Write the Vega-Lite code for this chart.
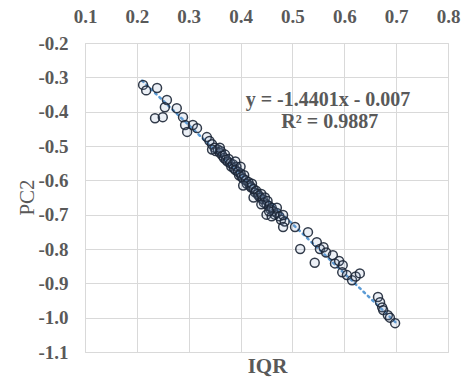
{
  "$schema": "https://vega.github.io/schema/vega-lite/v6.json",
  "width": 363,
  "height": 309,
  "autosize": "none",
  "padding": {"left": 85, "top": 43, "right": 15, "bottom": 27},
  "background": "white",
  "config": {
    "view": {"stroke": "#d9d9d9", "strokeWidth": 1},
    "font": "Liberation Serif"
  },
  "datasets": {
    "pts": [
      {"IQR": 0.212, "PC2": -0.322}, {"IQR": 0.218, "PC2": -0.338}, {"IQR": 0.239, "PC2": -0.331},
      {"IQR": 0.258, "PC2": -0.366}, {"IQR": 0.254, "PC2": -0.387}, {"IQR": 0.235, "PC2": -0.419},
      {"IQR": 0.250, "PC2": -0.416}, {"IQR": 0.277, "PC2": -0.390}, {"IQR": 0.289, "PC2": -0.416},
      {"IQR": 0.293, "PC2": -0.439}, {"IQR": 0.297, "PC2": -0.459}, {"IQR": 0.308, "PC2": -0.439},
      {"IQR": 0.316, "PC2": -0.448}, {"IQR": 0.335, "PC2": -0.474}, {"IQR": 0.340, "PC2": -0.485},
      {"IQR": 0.345, "PC2": -0.495}, {"IQR": 0.350, "PC2": -0.505}, {"IQR": 0.352, "PC2": -0.515},
      {"IQR": 0.356, "PC2": -0.510}, {"IQR": 0.360, "PC2": -0.520}, {"IQR": 0.362, "PC2": -0.515},
      {"IQR": 0.365, "PC2": -0.528}, {"IQR": 0.368, "PC2": -0.535}, {"IQR": 0.370, "PC2": -0.525},
      {"IQR": 0.372, "PC2": -0.540}, {"IQR": 0.375, "PC2": -0.545}, {"IQR": 0.377, "PC2": -0.538},
      {"IQR": 0.380, "PC2": -0.550}, {"IQR": 0.382, "PC2": -0.560}, {"IQR": 0.385, "PC2": -0.553},
      {"IQR": 0.387, "PC2": -0.565}, {"IQR": 0.390, "PC2": -0.570}, {"IQR": 0.392, "PC2": -0.560},
      {"IQR": 0.395, "PC2": -0.575}, {"IQR": 0.397, "PC2": -0.585}, {"IQR": 0.400, "PC2": -0.580},
      {"IQR": 0.402, "PC2": -0.590}, {"IQR": 0.405, "PC2": -0.595}, {"IQR": 0.407, "PC2": -0.585},
      {"IQR": 0.410, "PC2": -0.600}, {"IQR": 0.412, "PC2": -0.610}, {"IQR": 0.415, "PC2": -0.605},
      {"IQR": 0.418, "PC2": -0.615}, {"IQR": 0.420, "PC2": -0.620}, {"IQR": 0.422, "PC2": -0.610},
      {"IQR": 0.425, "PC2": -0.625}, {"IQR": 0.428, "PC2": -0.635}, {"IQR": 0.430, "PC2": -0.630},
      {"IQR": 0.433, "PC2": -0.640}, {"IQR": 0.435, "PC2": -0.645}, {"IQR": 0.438, "PC2": -0.650},
      {"IQR": 0.440, "PC2": -0.640}, {"IQR": 0.443, "PC2": -0.655}, {"IQR": 0.445, "PC2": -0.665},
      {"IQR": 0.447, "PC2": -0.650}, {"IQR": 0.450, "PC2": -0.670}, {"IQR": 0.452, "PC2": -0.660},
      {"IQR": 0.455, "PC2": -0.675}, {"IQR": 0.458, "PC2": -0.685}, {"IQR": 0.460, "PC2": -0.680},
      {"IQR": 0.463, "PC2": -0.690}, {"IQR": 0.466, "PC2": -0.700}, {"IQR": 0.470, "PC2": -0.695},
      {"IQR": 0.475, "PC2": -0.705}, {"IQR": 0.478, "PC2": -0.715}, {"IQR": 0.485, "PC2": -0.720},
      {"IQR": 0.390, "PC2": -0.545}, {"IQR": 0.405, "PC2": -0.615}, {"IQR": 0.425, "PC2": -0.650},
      {"IQR": 0.440, "PC2": -0.670}, {"IQR": 0.450, "PC2": -0.700}, {"IQR": 0.460, "PC2": -0.705},
      {"IQR": 0.470, "PC2": -0.680}, {"IQR": 0.400, "PC2": -0.560}, {"IQR": 0.360, "PC2": -0.505},
      {"IQR": 0.345, "PC2": -0.510}, {"IQR": 0.455, "PC2": -0.690}, {"IQR": 0.482, "PC2": -0.701},
      {"IQR": 0.482, "PC2": -0.736}, {"IQR": 0.505, "PC2": -0.736}, {"IQR": 0.530, "PC2": -0.751},
      {"IQR": 0.515, "PC2": -0.800}, {"IQR": 0.543, "PC2": -0.840}, {"IQR": 0.547, "PC2": -0.780},
      {"IQR": 0.553, "PC2": -0.800}, {"IQR": 0.560, "PC2": -0.795}, {"IQR": 0.565, "PC2": -0.810},
      {"IQR": 0.578, "PC2": -0.818}, {"IQR": 0.582, "PC2": -0.842}, {"IQR": 0.590, "PC2": -0.835},
      {"IQR": 0.597, "PC2": -0.847}, {"IQR": 0.596, "PC2": -0.868}, {"IQR": 0.605, "PC2": -0.876},
      {"IQR": 0.615, "PC2": -0.891}, {"IQR": 0.622, "PC2": -0.880}, {"IQR": 0.630, "PC2": -0.871},
      {"IQR": 0.665, "PC2": -0.940}, {"IQR": 0.669, "PC2": -0.955}, {"IQR": 0.673, "PC2": -0.970},
      {"IQR": 0.675, "PC2": -0.978}, {"IQR": 0.684, "PC2": -0.993}, {"IQR": 0.688, "PC2": -1.000},
      {"IQR": 0.698, "PC2": -1.016}
    ],
    "trend": [
      {"IQR": 0.21, "PC2": -0.3094},
      {"IQR": 0.70, "PC2": -1.0151}
    ],
    "labels": [
      {"label": "y = -1.4401x - 0.007", "line": 1},
      {"label": "R² = 0.9887", "line": 2}
    ]
  },
  "layer": [
    {
      "data": {"name": "trend"},
      "mark": {"type": "line", "color": "#5b9bd5", "strokeWidth": 2.5, "strokeDash": [2, 4], "strokeCap": "round"},
      "encoding": {
        "x": {"field": "IQR", "type": "quantitative"},
        "y": {"field": "PC2", "type": "quantitative"}
      }
    },
    {
      "data": {"name": "pts"},
      "mark": {"type": "point", "shape": "circle", "size": 80, "stroke": "#1c2636", "strokeWidth": 1.5, "filled": false, "fill": "#7f9cc0", "fillOpacity": 0.15, "strokeOpacity": 0.9},
      "encoding": {
        "x": {
          "field": "IQR", "type": "quantitative",
          "scale": {"domain": [0.1, 0.8], "nice": false, "zero": false},
          "axis": {
            "orient": "top", "values": [0.1, 0.2, 0.3, 0.4, 0.5, 0.6, 0.7, 0.8], "tickCount": 20,
            "labelExpr": "replace(format(datum.value, '.1f'), '\u2212', '-')", "labelOverlap": false, "labelFlush": false,
            "domain": false, "ticks": false, "labelPadding": 17,
            "labelFont": "Liberation Serif", "labelFontSize": 19, "labelFontWeight": "bold", "labelColor": "#595959",
            "gridColor": "#d9d9d9", "gridWidth": 1,
            "title": "IQR", "titleFont": "Liberation Serif", "titleFontSize": 21, "titleFontWeight": "bold", "titleColor": "#595959",
            "titleY": 323, "titleX": 182, "titleBaseline": "middle", "titleAnchor": "middle"
          }
        },
        "y": {
          "field": "PC2", "type": "quantitative",
          "scale": {"domain": [-1.1, -0.2], "nice": false, "zero": false},
          "axis": {
            "values": [-1.1, -1.0, -0.9, -0.8, -0.7, -0.6, -0.5, -0.4, -0.3, -0.2], "tickCount": 20,
            "labelExpr": "replace(format(datum.value, '.1f'), '\u2212', '-')", "labelOverlap": false, "labelFlush": false,
            "domain": false, "ticks": false, "labelPadding": 17,
            "labelFont": "Liberation Serif", "labelFontSize": 19, "labelFontWeight": "bold", "labelColor": "#595959",
            "gridColor": "#d9d9d9", "gridWidth": 1,
            "title": "PC2", "titleFont": "Liberation Serif", "titleFontSize": 21, "titleFontWeight": "normal", "titleColor": "#595959",
            "titleX": -58, "titleY": 154, "titleBaseline": "middle", "titleAngle": -90
          }
        }
      }
    },
    {
      "data": {"name": "labels"},
      "transform": [{"filter": "datum.line == 1"}],
      "mark": {"type": "text", "font": "Liberation Serif", "fontSize": 20, "fontWeight": "bold", "color": "#595959", "align": "center", "baseline": "middle"},
      "encoding": {
        "x": {"datum": 0.5686, "type": "quantitative"},
        "y": {"datum": -0.366, "type": "quantitative"},
        "text": {"field": "label"}
      }
    },
    {
      "data": {"name": "labels"},
      "transform": [{"filter": "datum.line == 2"}],
      "mark": {"type": "text", "font": "Liberation Serif", "fontSize": 20, "fontWeight": "bold", "color": "#595959", "align": "center", "baseline": "middle"},
      "encoding": {
        "x": {"datum": 0.572, "type": "quantitative"},
        "y": {"datum": -0.430, "type": "quantitative"},
        "text": {"field": "label"}
      }
    }
  ]
}
